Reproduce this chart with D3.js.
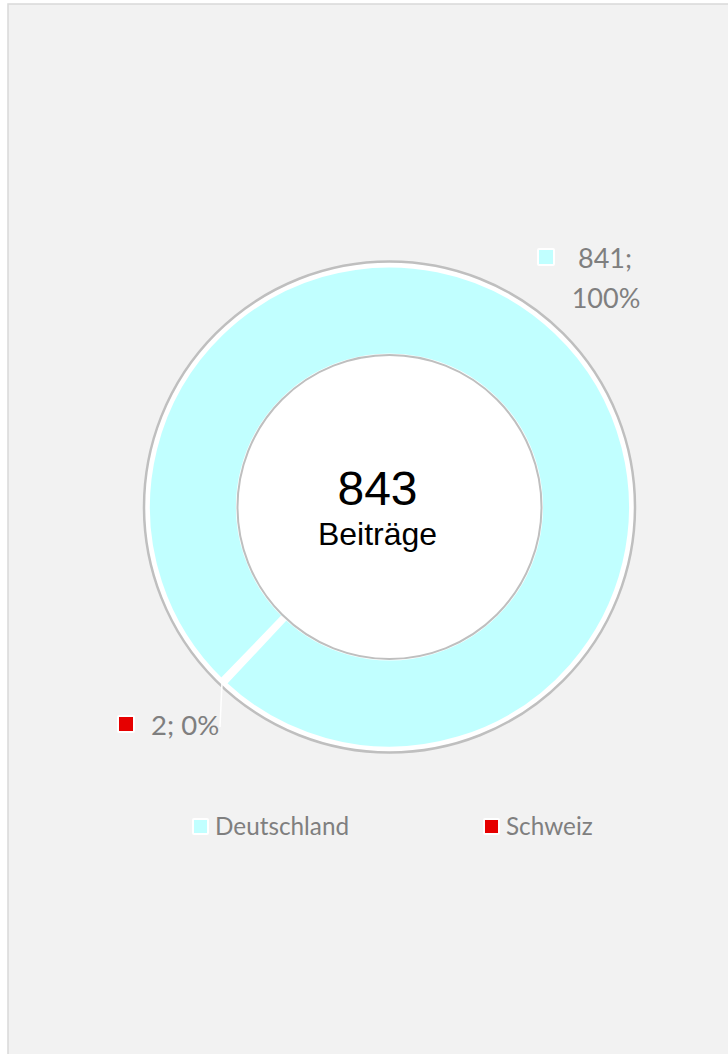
<!DOCTYPE html>
<html>
<head>
<meta charset="utf-8">
<script src="https://cdn.jsdelivr.net/npm/d3@7"></script>
<style>
  body { margin: 0; background: #ffffff; }
  svg { display: block; }
</style>
</head>
<body>
<svg class="svg" width="728" height="1054"></svg>
<script>
// data
let categories = ['Deutschland', 'Schweiz'];
let values = [841, 2];
let sliceColors = ['#c1ffff', '#e60000'];
let centerLabel = 'Beiträge';

let total = d3.sum(values);
let cx = 389.5, cy = 507;
let rOuter = 241, rInner = 152;
let labelFont = 'Lato, "Open Sans", sans-serif';
let labelColor = '#7f7f7f';

let svg = d3.select('.svg');

// chart area
svg.append('rect')
    .attr('x', 8).attr('y', 4)
    .attr('width', 740).attr('height', 1070)
    .attr('fill', '#f2f2f2')
    .attr('stroke', '#d9d9d9')
    .attr('stroke-width', 1.5);

let g = svg.append('g').attr('transform', 'translate(' + cx + ',' + cy + ')');

// outer ring
g.append('circle')
    .attr('r', rOuter + 4.5)
    .attr('fill', '#ffffff')
    .attr('stroke', '#bfbfbf')
    .attr('stroke-width', 2.5);

let startA = 224 * Math.PI / 180;
let pie = d3.pie().sort(null).startAngle(startA).endAngle(startA + 2 * Math.PI);
let arcs = pie(values);
let arc = d3.arc().innerRadius(rInner).outerRadius(rOuter);

g.selectAll('path.slice')
    .data(arcs)
    .enter()
    .append('path')
    .attr('class', 'slice')
    .attr('d', arc)
    .attr('fill', function (d, i) { return sliceColors[i]; })
    .attr('stroke', '#ffffff')
    .attr('stroke-width', function (d, i) { return i === 0 ? 3 : 5; })
    .attr('stroke-linejoin', 'round');

// inner hole
g.append('circle')
    .attr('r', rInner)
    .attr('fill', '#ffffff')
    .attr('stroke', '#bfbfbf')
    .attr('stroke-width', 2);

g.append('text')
    .attr('x', -12).attr('y', -2)
    .attr('text-anchor', 'middle')
    .attr('font-family', 'Arial, "Liberation Sans", sans-serif')
    .attr('font-size', '48px')
    .attr('fill', '#000000')
    .text(total);

g.append('text')
    .attr('x', -12).attr('y', 38)
    .attr('text-anchor', 'middle')
    .attr('font-family', 'Arial, "Liberation Sans", sans-serif')
    .attr('font-size', '32px')
    .attr('fill', '#000000')
    .text(centerLabel);

function pct(v) { return Math.round(v / total * 100) + '%'; }

function marker(x, y, size, color) {
    svg.append('rect')
        .attr('x', x - 2).attr('y', y - 2)
        .attr('width', size + 4).attr('height', size + 4)
        .attr('rx', 2)
        .attr('fill', '#ffffff');
    svg.append('rect')
        .attr('x', x).attr('y', y)
        .attr('width', size).attr('height', size)
        .attr('fill', color);
}

// data label Deutschland
marker(539, 250, 14, sliceColors[0]);
svg.append('text')
    .attr('x', 605).attr('y', 268)
    .attr('text-anchor', 'middle')
    .attr('font-family', labelFont).attr('font-size', '27px')
    .attr('fill', labelColor)
    .text(values[0] + ';');
svg.append('text')
    .attr('x', 606).attr('y', 308)
    .attr('text-anchor', 'middle')
    .attr('font-family', labelFont).attr('font-size', '27px')
    .attr('fill', labelColor)
    .text(pct(values[0]));

// data label Schweiz + leader line
let a1 = (arcs[1].startAngle + arcs[1].endAngle) / 2;
let lx = cx + Math.sin(a1) * (rOuter + 2);
let ly = cy - Math.cos(a1) * (rOuter + 2);
svg.append('line')
    .attr('x1', lx).attr('y1', ly)
    .attr('x2', 220).attr('y2', 727)
    .attr('stroke', '#ffffff')
    .attr('stroke-width', 1.5);
marker(119, 717, 14, sliceColors[1]);
svg.append('text')
    .attr('x', 151).attr('y', 735)
    .attr('font-family', labelFont).attr('font-size', '27.5px')
    .attr('fill', labelColor)
    .text(values[1] + '; ' + pct(values[1]));

// legend
let legendX = [194, 485];
categories.forEach(function (c, i) {
    marker(legendX[i], 820, 13, sliceColors[i]);
    svg.append('text')
        .attr('x', legendX[i] + 21).attr('y', 835)
        .attr('font-family', labelFont).attr('font-size', '24.3px')
        .attr('fill', labelColor)
        .text(c);
});
</script>
</body>
</html>
